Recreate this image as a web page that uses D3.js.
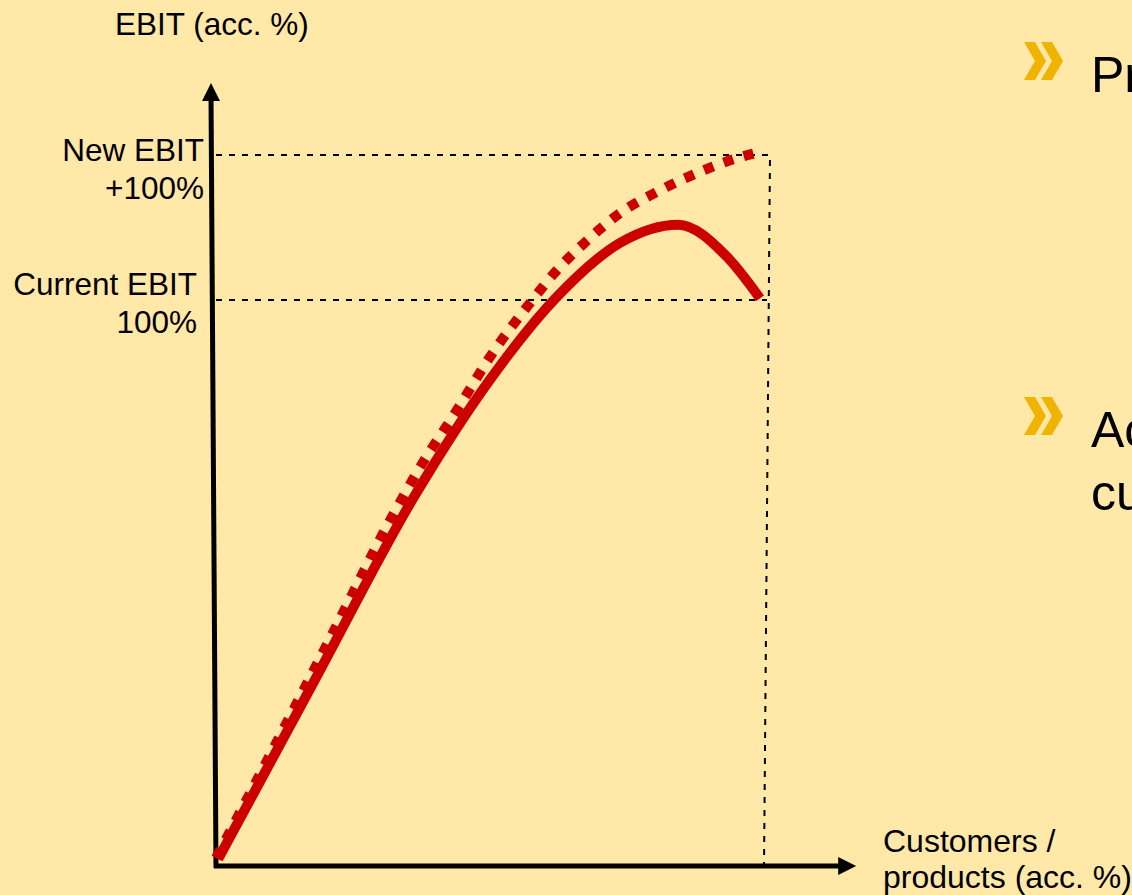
<!DOCTYPE html>
<html>
<head>
<meta charset="utf-8">
<script src="https://cdn.jsdelivr.net/npm/d3@7"></script>
<style>
html, body { margin: 0; padding: 0; background: #FFE8A8; overflow: hidden; }
svg { display: block; font-family: "Liberation Sans", Arial, sans-serif; }
</style>
</head>
<body>
<svg id="chart"></svg>
<script>
var W = 1132, H = 895;

// curve values, both axes in % of axis length
var solidX = [0.4, 18, 35.8, 49.8, 62, 73.5, 84, 92.9, 98.9];
var solidY = [0.9, 23.8, 46.9, 62.1, 72.7, 79.6, 81.9, 77.8, 72.5];
var dottedX = [0, 6.2, 20.7, 32, 37.6, 43.8, 49.8, 57.1, 62, 67.5, 73.5, 80.2, 87.5, 94.7, 99.5];
var dottedY = [1, 9.3, 29.0, 44.6, 51.5, 58.2, 65, 71.9, 76.1, 79.9, 83.4, 86.1, 88.5, 90.4, 91.3];

var levels = [72.3, 90.8]; // current EBIT, new EBIT
var levelLabels = [["Current EBIT", "100%"], ["New EBIT", "+100%"]];
var yTitle = "EBIT (acc. %)";
var xTitle = ["Customers /", "products (acc. %)"];
var bullets = [["Pr"], ["Ac", "cu"]];

var svg = d3.select("#chart").attr("width", W).attr("height", H);

var x = d3.scaleLinear().domain([0, 100]).range([216, 766]);
var y = d3.scaleLinear().domain([0, 100]).range([866, 83]);

var red = "#CC0000";

// dashed guide lines
var guides = svg.append("g").attr("stroke", "#000").attr("stroke-width", 2).attr("stroke-dasharray", "6,7").attr("fill", "none");
levels.forEach(function(v, i) {
	guides.append("line")
		.attr("x1", x(0)).attr("x2", x(100) + (i == 1 ? 4 : 1))
		.attr("y1", y(v)).attr("y2", y(v));
});
guides.append("line")
	.attr("x1", x(100) - 2).attr("y1", y(0) + 2)
	.attr("x2", x(100) + 4).attr("y2", y(levels[1]));

// axes
svg.append("line").attr("x1", x(0)).attr("y1", y(0) + 2).attr("x2", x(0) - 5).attr("y2", y(100) + 12)
	.attr("stroke", "#000").attr("stroke-width", 5);
svg.append("path")
	.attr("d", "M" + (x(0) - 5) + "," + y(100) + "L" + (x(0) - 14) + "," + (y(100) + 18) + "L" + (x(0) + 4) + "," + (y(100) + 18) + "Z")
	.attr("fill", "#000");
svg.append("line").attr("x1", x(0) - 2).attr("y1", y(0)).attr("x2", x(116.4) - 12).attr("y2", y(0))
	.attr("stroke", "#000").attr("stroke-width", 5);
svg.append("path")
	.attr("d", "M" + x(116.4) + "," + y(0) + "L" + (x(116.4) - 18) + "," + (y(0) - 9) + "L" + (x(116.4) - 18) + "," + (y(0) + 9) + "Z")
	.attr("fill", "#000");

// curves
var line = d3.line().x(function(d) { return x(d[0]); }).y(function(d) { return y(d[1]); }).curve(d3.curveMonotoneX);

svg.append("path")
	.datum(d3.zip(dottedX, dottedY))
	.attr("d", line)
	.attr("fill", "none").attr("stroke", red).attr("stroke-width", 10)
	.attr("stroke-dasharray", "10,11");

svg.append("path")
	.datum(d3.zip(solidX, solidY))
	.attr("d", line)
	.attr("fill", "none").attr("stroke", red).attr("stroke-width", 10)
	.attr("stroke-linejoin", "round");

// labels
var fs = 31.5;
svg.append("text").attr("x", 115).attr("y", 35).attr("font-size", fs).text(yTitle);

var labelPad = [19, 12];
var labelShift = [-5, 6];
levelLabels.forEach(function(lines, i) {
	var t = svg.append("text").attr("text-anchor", "end").attr("font-size", fs);
	lines.forEach(function(s, j) {
		t.append("tspan").attr("x", x(0) - labelPad[i]).attr("y", y(levels[i]) + labelShift[i] + j * 38).text(s);
	});
});

var xt = svg.append("text").attr("font-size", 32);
xTitle.forEach(function(s, j) {
	xt.append("tspan").attr("x", 883).attr("y", 852 + j * 36).text(s);
});

// bullet points on the right
var bulletTop = [42, 397];
bullets.forEach(function(lines, i) {
	var g = svg.append("g").attr("transform", "translate(1024," + bulletTop[i] + ")");
	[0, 17].forEach(function(dx) {
		g.append("path")
			.attr("d", "M" + dx + ",0L" + (dx + 11) + ",0L" + (dx + 22) + ",19L" + (dx + 11) + ",38L" + dx + ",38L" + (dx + 11) + ",19Z")
			.attr("fill", "#F0B400");
	});
	var t = svg.append("text").attr("font-size", 50);
	lines.forEach(function(s, j) {
		t.append("tspan").attr("x", 1091).attr("y", bulletTop[i] + 50 + j * 63).text(s);
	});
});
</script>
</body>
</html>
